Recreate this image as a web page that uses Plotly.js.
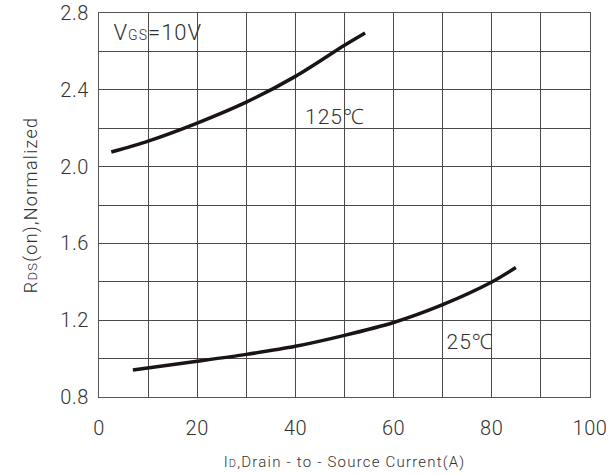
<!DOCTYPE html>
<html>
<head>
<meta charset="utf-8">
<script src="https://cdn.plot.ly/plotly-3.0.1.min.js"></script>
<style>
html,body{margin:0;padding:0;background:#fff;}
#chart{width:612px;height:475px;}
#chart .g-xtitle text{letter-spacing:1.2px;}
#chart .g-ytitle text{letter-spacing:1.3px;}
#chart .xtick text,#chart .ytick text{letter-spacing:0.6px;}
#chart .annotation-text{letter-spacing:1px;}
</style>
</head>
<body>
<div id="chart"></div>
<script>
// Data
const current125 = [2.5, 10, 20, 30, 40, 50, 54.2];
const rds125 = [2.076, 2.133, 2.227, 2.336, 2.470, 2.632, 2.696];
const current25 = [6.9, 20, 30, 40, 50, 60, 70, 80, 84.9];
const rds25 = [0.941, 0.986, 1.022, 1.064, 1.121, 1.188, 1.281, 1.399, 1.474];
const xTicks = [0, 20, 40, 60, 80, 100];
const yTicks = [0.8, 1.2, 1.6, 2.0, 2.4, 2.8];
const yTickText = ['0.8', '1.2', '1.6', '2.0', '2.4', '2.8'];

const FONT = 'Roboto, Noto Sans, sans-serif';
const TXT = '#333030';
const lineStyle = {color: '#1a1414', width: 3.5, shape: 'spline', smoothing: 0.8};

const traces = [
  {x: current125, y: rds125, mode: 'lines', line: lineStyle, hoverinfo: 'skip', name: '125℃'},
  {x: current25, y: rds25, mode: 'lines', line: lineStyle, hoverinfo: 'skip', name: '25℃'}
];

const gridColor = '#4d4848';
const layout = {
  width: 612, height: 475,
  margin: {l: 99, r: 22, t: 13, b: 78},
  paper_bgcolor: '#fff', plot_bgcolor: '#fff',
  showlegend: false,
  font: {family: FONT, color: TXT, weight: 300},
  xaxis: {
    range: [0, 100], tickvals: xTicks, ticktext: xTicks.map(String),
    showgrid: true, gridcolor: gridColor, gridwidth: 1,
    minor: {dtick: 10, tick0: 0, showgrid: true, gridcolor: gridColor, gridwidth: 1, ticks: ''},
    showline: true, mirror: true, linecolor: '#555', linewidth: 1,
    zeroline: false, ticks: '', ticklabelstandoff: 13,
    tickfont: {size: 20, family: FONT, color: TXT, weight: 300},
    title: {text: 'I<span style="font-size:11px">D</span>,Drain - to - Source Current(A)', font: {size: 15, family: FONT, color: TXT, weight: 300}, standoff: 17}
  },
  yaxis: {
    range: [0.8, 2.8], tickvals: yTicks, ticktext: yTickText,
    showgrid: true, gridcolor: gridColor, gridwidth: 1,
    minor: {dtick: 0.2, tick0: 0.8, showgrid: true, gridcolor: gridColor, gridwidth: 1, ticks: ''},
    showline: true, mirror: true, linecolor: '#555', linewidth: 1,
    zeroline: false, ticks: '', ticklabelstandoff: 5,
    tickfont: {size: 20, family: FONT, color: TXT, weight: 300},
    title: {text: 'R<span style="font-size:13px">DS</span>(on),Normalized', font: {size: 18, family: FONT, color: TXT, weight: 300}, standoff: 19}
  },
  annotations: [
    {x: 3.2, y: 2.7, xref: 'x', yref: 'y', xanchor: 'left', yanchor: 'middle', showarrow: false,
     text: 'V<span style="font-size:14px">GS</span>=10V', font: {size: 22, family: FONT, color: TXT, weight: 300}},
    {x: 42.0, y: 2.26, xref: 'x', yref: 'y', xanchor: 'left', yanchor: 'middle', showarrow: false,
     text: '125℃', font: {size: 21, family: FONT, color: TXT, weight: 300}},
    {x: 70.6, y: 1.085, xref: 'x', yref: 'y', xanchor: 'left', yanchor: 'middle', showarrow: false,
     text: '25℃', font: {size: 21, family: FONT, color: TXT, weight: 300}}
  ]
};

Plotly.newPlot('chart', traces, layout, {staticPlot: true, displayModeBar: false});
</script>
</body>
</html>
